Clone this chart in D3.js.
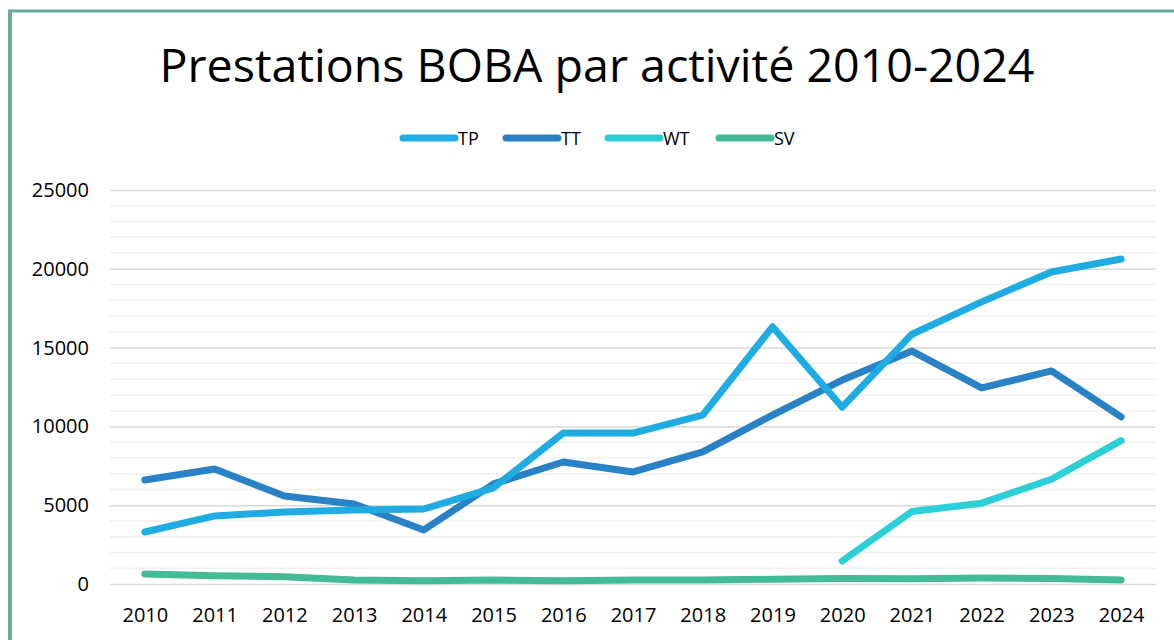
<!DOCTYPE html>
<html>
<head>
<meta charset="utf-8">
<script src="https://cdn.jsdelivr.net/npm/d3@7"></script>
<style>
  body { margin: 0; background: #fff; }
  svg { display: block; font-family: 'Open Sans', 'Noto Sans', sans-serif; }
</style>
</head>
<body>
<svg width="1174" height="640"></svg>
<script>
let years = ['2010', '2011', '2012', '2013', '2014', '2015', '2016', '2017', '2018', '2019', '2020', '2021', '2022', '2023', '2024'];
let tp = [3300, 4320, 4570, 4700, 4760, 6100, 9580, 9580, 10720, 16320, 11220, 15850, 17900, 19800, 20620];
let tt = [6600, 7300, 5580, 5080, 3430, 6350, 7740, 7110, 8380, 10720, 12940, 14780, 12440, 13520, 10600];
let wt = [null, null, null, null, null, null, null, null, null, null, 1460, 4600, 5130, 6650, 9100];
let sv = [640, 520, 460, 260, 200, 250, 200, 250, 250, 300, 350, 330, 380, 350, 260];
let yTicks = [0, 5000, 10000, 15000, 20000, 25000];

let series = [
  {name: 'TP', color: '#1face3', values: tp},
  {name: 'TT', color: '#2a82c6', values: tt},
  {name: 'WT', color: '#2bcfd8', values: wt},
  {name: 'SV', color: '#43bb96', values: sv}
];

let svg = d3.select('svg');
let margin = {top: 190, right: 18, bottom: 56, left: 110};
let width = +svg.attr('width') - margin.left - margin.right;
let height = +svg.attr('height') - margin.top - margin.bottom;

// frame
svg.append('line').attr('x1', 10).attr('x2', 10).attr('y1', 10).attr('y2', 640)
  .attr('stroke', '#6aa8a0').attr('stroke-width', 4);
svg.append('line').attr('x1', 8).attr('x2', 1174).attr('y1', 11).attr('y2', 11)
  .attr('stroke', '#6aa8a0').attr('stroke-width', 3);

svg.append('text')
  .attr('x', 597).attr('y', 82)
  .attr('text-anchor', 'middle')
  .attr('font-size', 46)
  .attr('textLength', 875)
  .attr('lengthAdjust', 'spacingAndGlyphs')
  .attr('fill', '#000')
  .text('Prestations BOBA par activité 2010-2024');

let g = svg.append('g').attr('transform', 'translate(' + margin.left + ',' + margin.top + ')');

let x = d3.scalePoint().domain(years).range([0, width]).padding(0.5);
let y = d3.scaleLinear().domain([0, 25000]).range([height, 0]);

// minor grid
g.append('g')
  .selectAll('line')
  .data(d3.range(1000, 25000, 1000).filter(function(v) { return v % 5000 !== 0; }))
  .join('line')
  .attr('x1', 0).attr('x2', width)
  .attr('y1', function(d) { return y(d); }).attr('y2', function(d) { return y(d); })
  .attr('stroke', '#f0f0f0').attr('stroke-width', 1.5);

// major grid
g.append('g')
  .call(d3.axisLeft(y).tickValues(yTicks).tickSize(-width).tickPadding(21).tickFormat(d3.format('d')))
  .attr('font-family', null).attr('font-size', 20)
  .call(function(a) { a.select('.domain').remove(); })
  .call(function(a) {
    a.selectAll('.tick line').attr('stroke', '#d9d9d9').attr('stroke-width', 1.5);
    a.selectAll('.tick text').attr('fill', '#000');
  });

g.append('g')
  .attr('transform', 'translate(0,' + height + ')')
  .call(d3.axisBottom(x).tickSize(0).tickPadding(24))
  .attr('font-family', null).attr('font-size', 20)
  .call(function(a) { a.select('.domain').remove(); })
  .call(function(a) {
    a.selectAll('.tick text').attr('fill', '#000');
  });

let line = d3.line()
  .defined(function(d) { return d != null; })
  .x(function(d, i) { return x(years[i]); })
  .y(function(d) { return y(d); });

g.selectAll('.series')
  .data(series.slice().reverse())
  .join('path')
  .attr('class', 'series')
  .attr('fill', 'none')
  .attr('stroke', function(d) { return d.color; })
  .attr('stroke-width', 7)
  .attr('stroke-linejoin', 'round')
  .attr('stroke-linecap', 'round')
  .attr('d', function(d) { return line(d.values); });

// legend
let legendX = [400, 503, 605, 716];
let lg = svg.append('g');
series.forEach(function(s, i) {
  lg.append('line')
    .attr('x1', legendX[i] + 3).attr('x2', legendX[i] + 55)
    .attr('y1', 138).attr('y2', 138)
    .attr('stroke', s.color).attr('stroke-width', 7).attr('stroke-linecap', 'round');
  lg.append('text')
    .attr('x', legendX[i] + 58).attr('y', 145)
    .attr('font-size', 18).attr('fill', '#000')
    .text(s.name);
});
</script>
</body>
</html>
